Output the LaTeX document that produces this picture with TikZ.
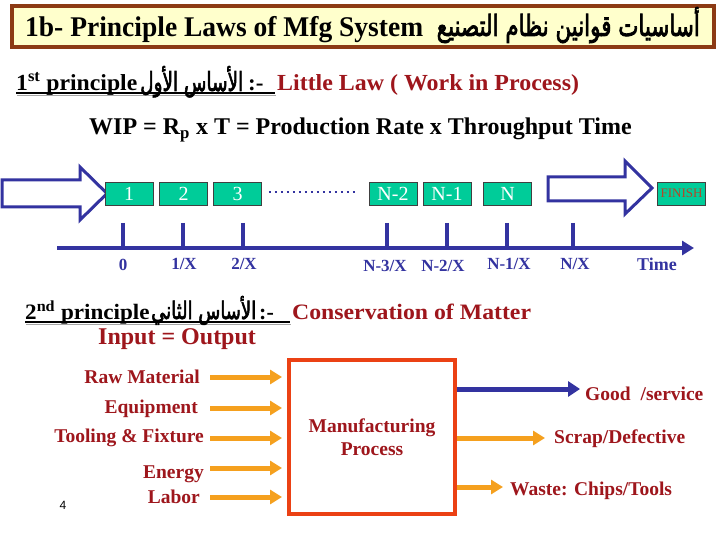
\documentclass[tikz,border=0pt]{standalone}
\usepackage{fontspec}
\setmainfont{Liberation Serif}
\newfontfamily\arabicfont[Script=Arabic,FakeBold=3]{DejaVu Sans}
\newfontfamily\arialfont{Liberation Sans}
\usetikzlibrary{arrows.meta,calc}
\TeXXeTstate=1
\definecolor{titlebrown}{RGB}{140,58,20}
\definecolor{titlefill}{RGB}{255,255,204}
\definecolor{darkred}{RGB}{158,22,28}
\definecolor{axisblue}{RGB}{51,51,160}
\definecolor{boxgreen}{RGB}{0,204,153}
\definecolor{arrorange}{RGB}{245,160,30}
\definecolor{procred}{RGB}{235,65,20}
\definecolor{finishc}{RGB}{180,70,40}
\begin{document}
\begin{tikzpicture}[x=1pt,y=-1pt,
  txt/.style={inner sep=0pt, anchor=base west},
  tbox/.style={draw=black!75, line width=0.8pt, fill=boxgreen, minimum width=48pt, minimum height=23pt, inner sep=0pt, text=white, font=\fontsize{20}{20}\selectfont},
  hollow/.style={draw=axisblue, line width=3pt, fill=white, line join=miter},
  axtick/.style={draw=axisblue, line width=4pt},
  tlab/.style={text=axisblue, font=\fontsize{17}{17}\selectfont\bfseries, anchor=base, inner sep=0pt},
  inlab/.style={text=darkred, font=\fontsize{19.5}{20}\selectfont\bfseries, anchor=base east, inner sep=0pt},
  outlab/.style={text=darkred, font=\fontsize{19.5}{20}\selectfont\bfseries, anchor=base west, inner sep=0pt},
  inarr/.style={draw=arrorange, line width=5pt, -{Triangle[length=12pt,width=14pt]}},
  goodarr/.style={draw=axisblue, line width=5pt, -{Triangle[length=12pt,width=15pt]}},
  uline/.style={line width=1.6pt},
  ushadow/.style={line width=1.8pt, draw=black!35}
]
\useasboundingbox (0,0) rectangle (720,540);
\fill[white] (0,0) rectangle (720,540);

% ---------- title ----------
\node[draw=titlebrown, line width=4pt, fill=titlefill, minimum width=702pt, minimum height=41pt, inner sep=0pt] (titlebox) at (363,26.5) {};
\node[txt, font=\fontsize{28.5}{30}\selectfont\bfseries] (titleen) at (25,37) {\scalebox{0.965}[1]{1b- Principle Laws of Mfg System}};
\node[txt, anchor=base east] (titlear) at (700,36) {\resizebox{263pt}{29pt}{\arabicfont\beginR أساسيات قوانين نظام التصنيع\endR}};

% ---------- 1st principle ----------
\draw[ushadow] (17,95.6) -- (276,95.6);
\draw[uline] (16,93.3) -- (275,93.3);
\node[txt, font=\fontsize{23}{24}\selectfont\bfseries] (p1a) at (16,91) {\scalebox{1.03}[1]{1\textsuperscript{st} principle}};
\node[txt] (p1ar) at (140,91) {\resizebox{103pt}{25pt}{\arabicfont\beginR الأساس الأول\endR}};
\node[txt, font=\fontsize{23}{24}\selectfont\bfseries] (p1c) at (248,91) {:-};
\node[txt, text=darkred, font=\fontsize{23}{24}\selectfont\bfseries] (p1d) at (277,91) {\scalebox{1.04}[1]{Little Law ( Work in Process)}};

\node[txt, font=\fontsize{24}{24}\selectfont\bfseries] (wip) at (89,135) {WIP = R\textsubscript{p} x T = Production Rate x Throughput Time};

% ---------- timeline ----------
\draw[hollow] (2,180) -- (80,180) -- (80,167) -- (107,193.5) -- (80,220) -- (80,207) -- (2,207) -- cycle;
\draw[hollow] (548,177) -- (625,177) -- (625,161) -- (652,188) -- (625,214) -- (625,201) -- (548,201) -- cycle;

\node[tbox] (b1) at (129,193.5) {1};
\node[tbox] (b2) at (183.5,193.5) {2};
\node[tbox] (b3) at (237.5,193.5) {3};
\node[tbox] (bn2) at (393,193.5) {N-2};
\node[tbox] (bn1) at (447,193.5) {N-1};
\node[tbox] (bn) at (507.5,193.5) {N};
\node[tbox, text=finishc, font=\fontsize{13}{13}\selectfont] (fin) at (681.5,193.5) {FINISH};
\draw[axisblue, line width=2.5pt, dash pattern=on 2.5pt off 3.5pt] ([xshift=7pt,yshift=1.5pt]b3.east) -- ([xshift=-13pt,yshift=1.5pt]bn2.west);

\coordinate (axs) at (57,248);
\coordinate (axe) at (694,248);
\draw[draw=axisblue, line width=4pt, -{Triangle[length=12pt,width=14pt]}] (axs) -- (axe);
\foreach \x in {123,183,243,387,447,507,573} \draw[axtick] (\x,223) -- (\x,248);
\node[tlab] (l0) at (123,270) {0};
\node[tlab] (l1) at (184,269) {1/X};
\node[tlab] (l2) at (244,269) {2/X};
\node[tlab] (l3) at (385,271) {N-3/X};
\node[tlab] (l4) at (443,271) {N-2/X};
\node[tlab] (l5) at (509,269) {N-1/X};
\node[tlab] (l6) at (575,269) {N/X};
\node[tlab, font=\fontsize{18}{18}\selectfont\bfseries] (ltime) at (657,270) {Time};

% ---------- 2nd principle ----------
\draw[ushadow] (26,324.4) -- (291,324.4);
\draw[uline] (25,322) -- (290,322);
\node[txt, font=\fontsize{22}{24}\selectfont\bfseries] (p2a) at (25,319) {\scalebox{1.05}[1]{2\textsuperscript{nd} principle}};
\node[txt] (p2ar) at (151,319) {\resizebox{105pt}{23pt}{\arabicfont\beginR الأساس الثاني\endR}};
\node[txt, font=\fontsize{22}{24}\selectfont\bfseries] (p2c) at (259,319) {:-};
\node[txt, text=darkred, font=\fontsize{22}{24}\selectfont\bfseries] (p2d) at (292,319) {\scalebox{1.08}[1]{Conservation of Matter}};
\node[txt, text=darkred, font=\fontsize{24}{24}\selectfont\bfseries] (io) at (98,344) {Input = Output};

% ---------- process ----------
\node[draw=procred, line width=4pt, minimum width=166pt, minimum height=154pt, text=darkred, align=center, font=\fontsize{19.5}{23}\selectfont\bfseries] (proc) at (372,437) {Manufacturing\\Process};

\node[inlab] (rm) at (200,383) {Raw Material};
\node[inlab] (eq) at (198,413) {Equipment};
\node[inlab] (tf) at (204,442) {Tooling \& Fixture};
\node[inlab] (en) at (204,478) {Energy};
\node[inlab] (lb) at (200,503) {Labor};
\coordinate (a1) at (210,377);
\coordinate (a2) at (210,408);
\coordinate (a3) at (210,438);
\coordinate (a4) at (210,468);
\coordinate (a5) at (210,497);
\foreach \c in {a1,a2,a3,a4,a5} \draw[inarr, shorten >=5pt] (\c) -- (\c -| proc.west);

\coordinate (o1) at (580,389);
\coordinate (o2) at (545,438);
\coordinate (o3) at (503,487);
\draw[goodarr] (proc.east |- o1) -- (o1);
\draw[inarr] (proc.east |- o2) -- (o2);
\draw[inarr] (proc.east |- o3) -- (o3);
\node[outlab] (good) at (585,400) {Good\hspace{5pt} /service};
\node[outlab] (scrap) at (554,443) {Scrap/Defective};
\node[outlab] (waste) at (510,495) {Waste: Chips/Tools};

\node[inner sep=0pt, anchor=base, font=\arialfont\fontsize{12}{12}\selectfont] (pg) at (63,509) {4};
\end{tikzpicture}
\end{document}
